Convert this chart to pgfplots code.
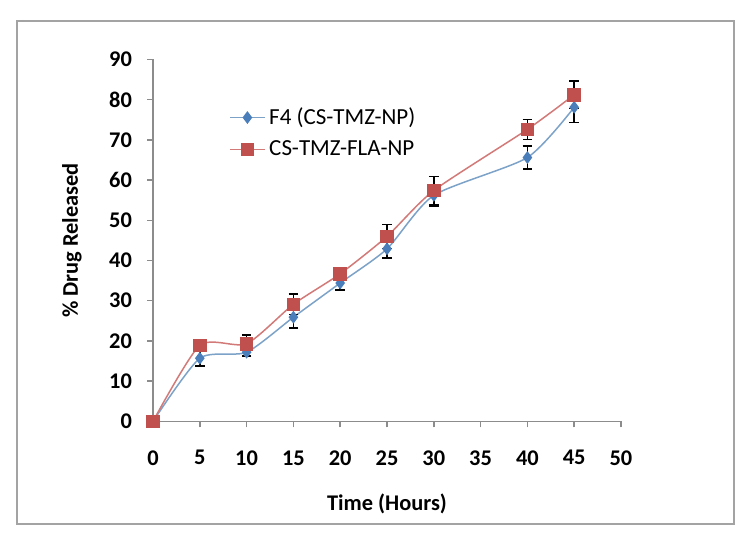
\documentclass[border=0pt]{standalone}
\usepackage{pgfplots}
\pgfplotsset{compat=1.18}
\usepackage{fontspec}
\setmainfont{Carlito}
\definecolor{bluemk}{HTML}{4A7EBB}
\definecolor{blueln}{HTML}{7DA2C8}
\definecolor{redmk}{HTML}{C0504D}
\definecolor{redln}{HTML}{D27A78}
\definecolor{axgray}{HTML}{8C8C8C}
\begin{document}
\begin{tikzpicture}
\path (0,0) rectangle (375pt,275.5pt);
\draw[color=axgray!80, line width=0.7pt] (8.5pt,13.5pt) rectangle (367pt,265pt);
\begin{axis}[
  at={(76.5pt,64.8pt)}, anchor=south west,
  scale only axis, width=234pt, height=181pt,
  xmin=0, xmax=50, ymin=0, ymax=90,
  xtick={0,5,...,50}, ytick={0,10,...,90},
  xticklabels={\textbf{0},\textbf{5},\textbf{10},\textbf{15},\textbf{20},\textbf{25},\textbf{30},\textbf{35},\textbf{40},\textbf{45},\textbf{50}},
  yticklabels={\textbf{0},\textbf{10},\textbf{20},\textbf{30},\textbf{40},\textbf{50},\textbf{60},\textbf{70},\textbf{80},\textbf{90}},
  axis lines*=left,
  axis line style={axgray, line width=0.75pt},
  tick style={axgray, line width=0.75pt},
  tick align=outside, major tick length=3pt,
  clip=false,
  ticklabel style={font=\bfseries\fontsize{11.2}{13}\selectfont},
  xticklabel style={yshift=-8pt},
  yticklabel style={xshift=-4pt},
  xlabel={Time (Hours)},
  ylabel={\% Drug Released},
  every axis x label/.style={at={(axis description cs:0.5,-0.2265)},anchor=center,font=\bfseries\fontsize{11.2}{13}\selectfont},
  every axis y label/.style={at={(axis description cs:-0.173,0.5)},rotate=90,anchor=center,font=\bfseries\fontsize{11.2}{13}\selectfont},
  legend style={draw=none, fill=none, at={(axis description cs:0.15,0.89)}, anchor=north west,
    font=\fontsize{11.5}{13}\selectfont, row sep=2.5pt, cells={anchor=west}},
  legend cell align=left,
  error bars/error bar style={black, line width=0.8pt},
  error bars/error mark options={rotate=90, black, mark size=2.4pt, line width=0.8pt},
]
\addplot[blueln, line width=0.75pt, smooth, tension=0.4,
  mark=diamond*, mark size=2.6pt, mark options={fill=bluemk, draw=bluemk},
  error bars/.cd, y dir=both, y explicit]
  table[x=x, y=y, y error=e] {
x y e
0 0 0
5 15.7 2.0
10 17.2 1.0
15 25.9 2.7
20 34.4 1.7
25 42.9 2.3
30 56.2 2.7
40 65.6 2.8
45 78.1 3.8
};
\addlegendentry{F4 (CS-TMZ-NP)}
\addplot[redln, line width=0.75pt, smooth, tension=0.4,
  mark=square*, mark size=3pt, mark options={fill=redmk, draw=redmk},
  error bars/.cd, y dir=both, y explicit]
  table[x=x, y=y, y error=e] {
x y e
0 0 0
5 18.9 0.6
10 19.3 2.2
15 29.1 2.5
20 36.7 1.5
25 46.0 3.0
30 57.4 3.5
40 72.6 2.5
45 81.2 3.4
};
\addlegendentry{CS-TMZ-FLA-NP}
\end{axis}
\end{tikzpicture}
\end{document}
